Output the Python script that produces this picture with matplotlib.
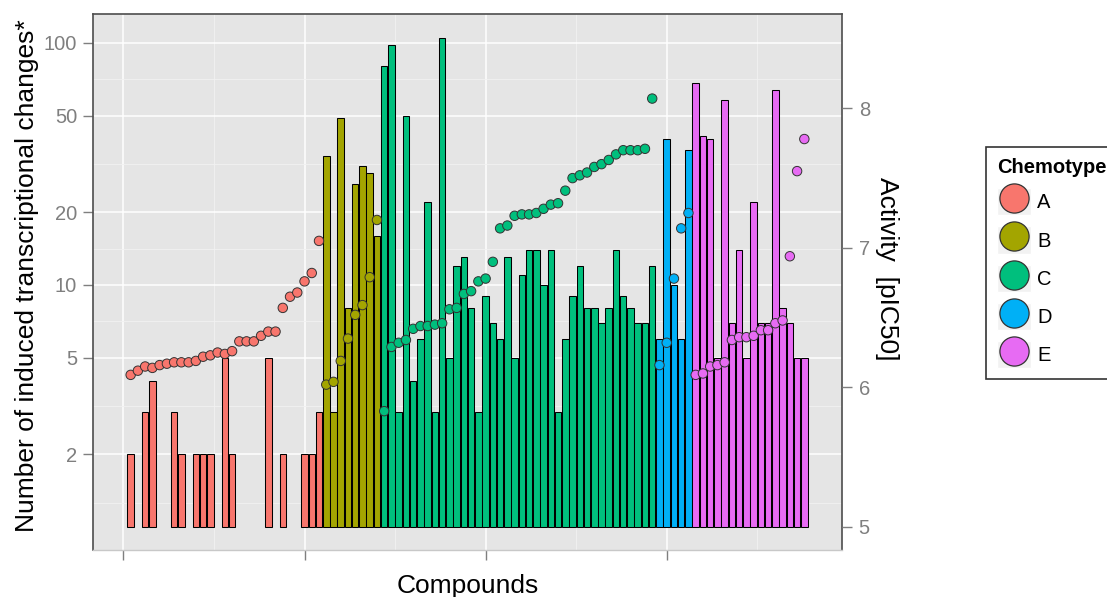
import matplotlib
matplotlib.use('Agg')
import matplotlib.pyplot as plt
from matplotlib.patches import Patch
from matplotlib.lines import Line2D
from matplotlib.legend_handler import HandlerTuple
from matplotlib.ticker import NullFormatter
import numpy as np

plt.rcParams['font.family'] = ['Liberation Sans', 'DejaVu Sans']

# ---------------- data ----------------
chemotypes = ['A', 'B', 'C', 'D', 'E']
chemotype_colors = ['#F8766D', '#A3A500', '#00BF7D', '#00B0F6', '#E76BF3']

# number of induced transcriptional changes per compound (0 = none)
changes_A = [2, 0, 3, 4, 0, 0, 3, 2, 0, 2, 2, 2, 0, 5, 2, 0, 0, 0, 0, 5, 0, 2, 0, 0, 2, 2, 3]
changes_B = [34, 3, 49, 8, 26, 31, 29, 16]
changes_C = [80, 98, 3, 50, 4, 6, 22, 3, 105, 5, 12, 13, 8, 3, 9, 7, 6, 13, 5, 11,
             14, 14, 10, 14, 3, 6, 9, 12, 8, 8, 7, 8, 14, 9, 8, 7, 7, 12]
changes_D = [6, 40, 10, 6, 36]
changes_E = [68, 41, 40, 5, 58, 7, 14, 5, 22, 7, 7, 64, 8, 7, 5, 5]

# activity (pIC50) per compound
pic50_A = [6.09, 6.12, 6.15, 6.14, 6.16, 6.17, 6.18, 6.18, 6.18, 6.19, 6.22, 6.23, 6.25, 6.24,
           6.26, 6.33, 6.33, 6.33, 6.37, 6.40, 6.40, 6.57, 6.65, 6.68, 6.76, 6.82, 7.05]
pic50_B = [6.02, 6.04, 6.19, 6.35, 6.52, 6.59, 6.79, 7.20]
pic50_C = [5.83, 6.29, 6.32, 6.34, 6.42, 6.44, 6.44, 6.45, 6.46, 6.56, 6.57, 6.67, 6.69, 6.76,
           6.78, 6.90, 7.14, 7.16, 7.23, 7.24, 7.24, 7.25, 7.28, 7.31, 7.32, 7.41, 7.50, 7.52,
           7.54, 7.58, 7.60, 7.63, 7.67, 7.70, 7.70, 7.70, 7.71, 8.07]
pic50_D = [6.16, 6.32, 6.78, 7.14, 7.25]
pic50_E = [6.09, 6.10, 6.15, 6.16, 6.18, 6.34, 6.36, 6.36, 6.37, 6.41, 6.41, 6.46, 6.48,
           6.94, 7.55, 7.78]

left_ticks = [2, 5, 10, 20, 50, 100]
right_ticks = [5, 6, 7, 8]
x_ticks = [0, 25, 50, 75]

# ---------------- assemble ----------------
changes_groups = [changes_A, changes_B, changes_C, changes_D, changes_E]
pic50_groups = [pic50_A, pic50_B, pic50_C, pic50_D, pic50_E]
changes = np.array(sum(changes_groups, []), dtype=float)
pic50 = np.array(sum(pic50_groups, []), dtype=float)
colors = np.array(sum([[c] * len(g) for c, g in zip(chemotype_colors, changes_groups)], []))
x = np.arange(1, len(changes) + 1)

W, H, DPI = 1107, 597, 100
fig = plt.figure(figsize=(W / DPI, H / DPI), dpi=DPI)
px_l, px_r, px_t, px_b = 93, 842, 14, 550
ax = fig.add_axes([px_l / W, 1 - px_b / H, (px_r - px_l) / W, (px_b - px_t) / H])
ax.set_facecolor('#E5E5E5')
ax.set_axisbelow(True)

mask = changes > 0
ax.bar(x[mask], changes[mask] - 1, bottom=1, width=0.9, color=colors[mask],
       edgecolor='black', linewidth=0.75, zorder=2)

ax.set_yscale('log')
ax.set_ylim(0.806, 131.3)
ax.set_xlim(-4.2, 99.2)

ax.set_yticks(left_ticks)
ax.set_yticklabels([str(t) for t in left_ticks])
minor_y = [1.265, 3.162, 7.071, 14.14, 31.62, 70.71]
ax.set_yticks(minor_y, minor=True)
ax.yaxis.set_minor_formatter(NullFormatter())
ax.set_xticks(x_ticks)
ax.set_xticklabels([''] * len(x_ticks))
ax.set_xticks([12.5, 37.5, 62.5, 87.5], minor=True)
ax.xaxis.set_minor_formatter(NullFormatter())
ax.tick_params(which='minor', length=0)
ax.tick_params(which='major', direction='out', length=7, width=1, color='#7F7F7F',
               labelcolor='#7F7F7F', labelsize=14.5, pad=4.5)
ax.grid(which='major', color='white', linewidth=1.1)
ax.grid(which='minor', color='#F2F2F2', linewidth=0.6)

for s in ['left', 'top', 'right']:
    ax.spines[s].set_color('#4D4D4D')
    ax.spines[s].set_linewidth(1.2)
ax.spines['bottom'].set_color('#C8C8C8')
ax.spines['bottom'].set_linewidth(1.0)

ax2 = ax.twinx()
ax2.scatter(x, pic50, s=46, c=colors, edgecolors='#333333', linewidths=0.7, zorder=3)
ax2.set_ylim(4.835, 8.676)
ax2.set_yticks(right_ticks)
ax2.set_yticklabels([str(t) for t in right_ticks])
ax2.tick_params(direction='out', length=7, width=1, color='#7F7F7F',
                labelcolor='#7F7F7F', labelsize=14.5, pad=5)
for s in ax2.spines.values():
    s.set_visible(False)

# axis titles
fig.text(34 / W, 1 - 276 / H, 'Number of induced transcriptional changes*', rotation=90,
         rotation_mode='anchor', ha='center', va='baseline', fontsize=19, color='black')
fig.text(468 / W, 1 - 593 / H, 'Compounds', ha='center', va='baseline', fontsize=19,
         color='black')
fig.text(880 / W, 1 - 269 / H, 'Activity  [pIC50]', rotation=-90, rotation_mode='anchor',
         ha='center', va='baseline', fontsize=19, color='black')

# legend
handles = [(Patch(facecolor='#F2F2F2', edgecolor='white'),
            Line2D([], [], marker='o', markersize=21, markerfacecolor=c,
                   markeredgecolor='#333333', markeredgewidth=0.9, linestyle=''))
           for c in chemotype_colors]
leg = fig.legend(handles, chemotypes, handler_map={tuple: HandlerTuple(ndivide=1)},
                 loc='upper left', bbox_to_anchor=(986 / W, 1 - 147 / H), borderaxespad=0,
                 title='Chemotype', alignment='left', fontsize=14.5,
                 title_fontproperties={'weight': 'bold', 'size': 14.5},
                 handlelength=1.7, handleheight=1.7, handletextpad=0.3,
                 labelspacing=0.55, borderpad=0.55, numpoints=1, fancybox=False,
                 framealpha=1, edgecolor='#333333')
leg.get_frame().set_linewidth(1.2)

fig.savefig('out.png', dpi=DPI)
